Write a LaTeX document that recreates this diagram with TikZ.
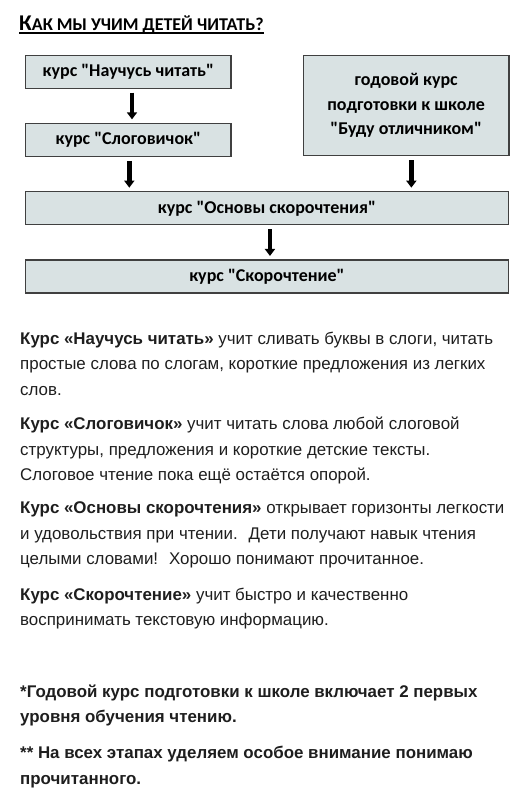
\documentclass[tikz,border=0pt]{standalone}
\usepackage{fontspec}
\setmainfont{Liberation Sans}
\newfontfamily\boxfont{Carlito}
\usetikzlibrary{positioning, arrows.meta}
\definecolor{boxfill}{RGB}{217,226,227}
\definecolor{boxline}{RGB}{64,64,64}
\definecolor{inktext}{RGB}{30,30,30}

\begin{document}
\begin{tikzpicture}[x=1pt, y=-1pt,
  course/.style={draw=boxline, line width=1.3pt, fill=boxfill, minimum height=33pt,
                 inner sep=0pt, align=center, font=\boxfont\bfseries\fontsize{18}{24.4}\selectfont},
  flow/.style={-{Triangle[width=10pt, length=7pt]}, line width=4.5pt,
               shorten <=3.7pt, shorten >=3.5pt},
  para/.style={anchor=base west, inner sep=0pt, align=left, text=inktext,
               font=\fontsize{16.9}{25.8}\selectfont}]
  \useasboundingbox (0,0) rectangle (529,788);
  % titolo in maiuscoletto, sottolineato
  \node[anchor=base west, inner sep=0pt, font=\boxfont\bfseries] (title) at (19,30.7)
       {{\fontsize{22.5}{22}\selectfont К}{\fontsize{18}{18}\selectfont АК МЫ УЧИМ ДЕТЕЙ ЧИТАТЬ?}};
  \draw[line width=1.4pt] ([yshift=-2.3pt]title.base west) -- ([yshift=-2.3pt]title.base east);
  % schema dei corsi
  \node[course, minimum width=205.3pt] (naucus) at (128.3,71.7) {курс "Научусь читать"};
  \node[course, minimum width=205.3pt, below=34pt of naucus] (slogov) {курс "Слоговичок"};
  \node[course, minimum width=205.6pt, minimum height=100pt, anchor=north west] (godovoy)
       at (302.7,55) {годовой курс\\подготовки к школе\\"Буду отличником"};
  \node[course, minimum width=482.6pt, below=34pt of slogov.south west, anchor=north west]
       (osnovy) {курс "Основы скорочтения"};
  \node[course, minimum width=482.6pt, below=34pt of osnovy] (skoro) {курс "Скорочтение"};
  \draw[flow] ([xshift=3.7pt]naucus.south) -- ([xshift=3.7pt]slogov.north);
  \draw[flow] ([xshift=1pt]slogov.south) -- ([xshift=1pt]slogov.south |- osnovy.north);
  \draw[flow] ([xshift=5.2pt]godovoy.south) -- ([xshift=5.2pt]godovoy.south |- osnovy.north);
  \draw[flow] ([xshift=3pt]osnovy.south) -- ([xshift=3pt]skoro.north);
  % descrizioni (base = ultima riga)
  \node[para] (p1) at (20,395.6) {\textbf{Курс «Научусь читать»} учит сливать буквы в слоги, читать\\
    простые слова по слогам, короткие предложения из легких\\слов.};
  \node[para] (p2) at (20,480.9) {\textbf{Курс «Слоговичок»} учит читать слова любой слоговой\\
    структуры, предложения и короткие детские тексты.\\Слоговое чтение пока ещё остаётся опорой.};
  \node[para] (p3) at (20,564.9) {\textbf{Курс «Основы скорочтения»} открывает горизонты легкости\\
    и удовольствия при чтении.~ Дети получают навык чтения\\целыми словами!~ Хорошо понимают прочитанное.};
  \node[para] (p4) at (20,625.8) {\textbf{Курс «Скорочтение»} учит быстро и качественно\\
    воспринимать текстовую информацию.};
  % note
  \node[para, font=\bfseries\fontsize{16.9}{25.8}\selectfont] (n1) at (20,722.8)
       {*Годовой курс подготовки к школе включает 2 первых\\уровня обучения чтению.};
  \node[para, font=\bfseries\fontsize{16.9}{25.8}\selectfont] (n2) at (20,784.5)
       {** На всех этапах уделяем особое внимание понимаю\\прочитанного.};
\end{tikzpicture}
\end{document}
